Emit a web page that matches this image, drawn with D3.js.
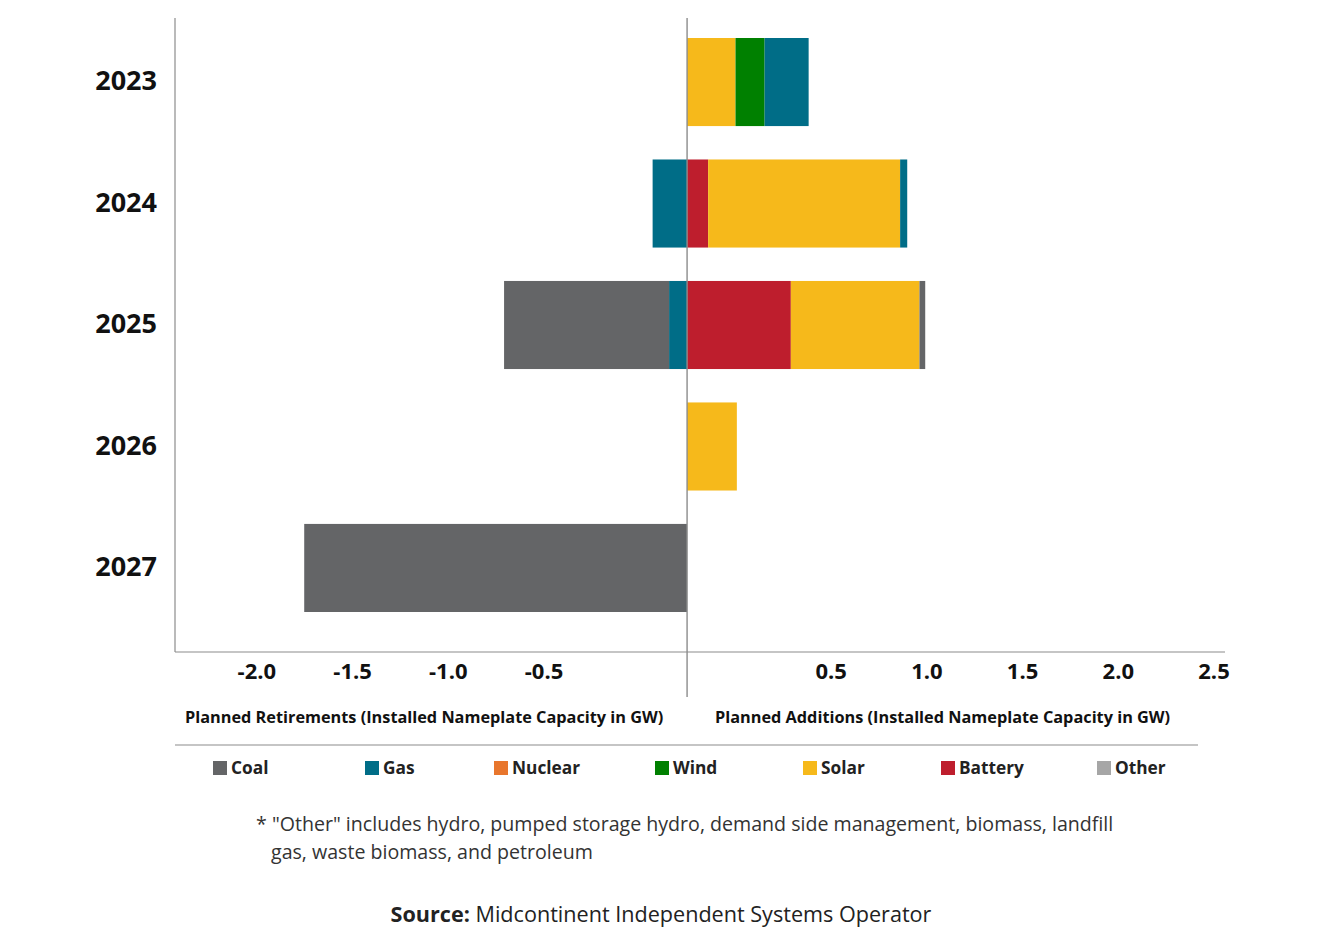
<!DOCTYPE html>
<html>
<head>
<meta charset="utf-8">
<script src="https://cdn.jsdelivr.net/npm/d3@7/dist/d3.min.js"></script>
<style>
  html, body { margin: 0; padding: 0; background: #fff; }
  svg { display: block; font-family: "Open Sans", "Noto Sans", sans-serif; }
</style>
</head>
<body>
<svg id="chart" width="1320" height="934"></svg>
<script>
// ---- Data (GW) ----
const years = ["2023", "2024", "2025", "2026", "2027"];

// Retirements (stacked leftwards from zero: gas first, then coal)
const retireGas  = [0, 0.18, 0.094, 0, 0];
const retireCoal = [0, 0, 0.862, 0, 2.0];

// Additions (stacked rightwards from zero)
const addBattery = [0, 0.11, 0.542, 0, 0];
const addSolar   = [0.253, 1.003, 0.672, 0.26, 0];
const addWind    = [0.152, 0, 0, 0, 0];
const addGas     = [0.23, 0.037, 0, 0, 0];
const addCoal    = [0, 0, 0.03, 0, 0];

const tickValues = [-2.0, -1.5, -1.0, -0.5, 0.5, 1.0, 1.5, 2.0, 2.5];

const legendNames  = ["Coal", "Gas", "Nuclear", "Wind", "Solar", "Battery", "Other"];
const legendColors = ["#646567", "#006d87", "#e8762d", "#008000", "#f6b91b", "#be1e2d", "#a6a6a6"];
const colorOf = Object.fromEntries(legendNames.map((n, i) => [n, legendColors[i]]));

// ---- Layout ----
const svg = d3.select("#chart");
const plotLeft = 175, plotRight = 1225, plotTop = 18, plotBottom = 652;

const x = d3.scaleLinear().domain([-2.675, 2.81]).range([plotLeft, plotRight]);
const y = d3.scaleBand().domain(years).range([38, 612]).paddingInner(0.275).paddingOuter(0);

// ---- Build segments ----
const segs = [];
function stack(seriesList, dir) {
  years.forEach((yr, i) => {
    let acc = 0;
    seriesList.forEach(([name, arr]) => {
      const v = arr[i];
      if (v > 0) {
        const a = acc, b = acc + v;
        segs.push({ yr, name, x0: dir * a, x1: dir * b });
        acc = b;
      }
    });
  });
}
stack([["Gas", retireGas], ["Coal", retireCoal]], -1);
stack([["Battery", addBattery], ["Solar", addSolar], ["Wind", addWind], ["Gas", addGas], ["Coal", addCoal]], 1);

svg.append("g").selectAll("rect").data(segs).join("rect")
  .attr("x", d => x(Math.min(d.x0, d.x1)))
  .attr("y", d => y(d.yr))
  .attr("width", d => Math.abs(x(d.x1) - x(d.x0)))
  .attr("height", y.bandwidth())
  .attr("fill", d => colorOf[d.name]);

// ---- Axes lines ----
const lineColor = "#8c8c8c";
svg.append("line").attr("x1", plotLeft).attr("x2", plotLeft).attr("y1", plotTop).attr("y2", plotBottom)
  .attr("stroke", lineColor).attr("stroke-width", 1.2);
svg.append("line").attr("x1", plotLeft).attr("x2", plotRight).attr("y1", plotBottom).attr("y2", plotBottom)
  .attr("stroke", lineColor).attr("stroke-width", 1.2);
svg.append("line").attr("x1", x(0)).attr("x2", x(0)).attr("y1", plotTop).attr("y2", 697)
  .attr("stroke", lineColor).attr("stroke-width", 1.4);

// ---- Y labels ----
const yAxis = d3.axisLeft(y).tickSize(0).tickPadding(0);
const gy = svg.append("g").attr("transform", "translate(157,-1)").call(yAxis);
gy.select(".domain").remove();
gy.selectAll("text")
  .attr("font-size", 27).attr("font-weight", 700).attr("fill", "#111")
  .attr("font-family", '"Open Sans", sans-serif')
  .attr("dy", "0.35em");

// ---- X tick labels (offset half a step outward, as in the reference) ----
const half = x(0.25) - x(0);
const xAxis = d3.axisBottom(x).tickValues(tickValues).tickSize(0).tickFormat(d3.format(".1f"));
const gx = svg.append("g").attr("transform", `translate(0,${plotBottom})`).call(xAxis);
gx.select(".domain").remove();
gx.selectAll(".tick text")
  .attr("font-size", 22).attr("font-weight", 700).attr("fill", "#111")
  .attr("font-family", '"Open Sans", sans-serif')
  .attr("y", 0).attr("dy", 27)
  .attr("dx", d => (d < 0 ? -half : half))
  .text(d => d3.format(".1f")(d).replace("−", "-"));

// ---- Axis titles ----
svg.append("text").attr("x", 185).attr("y", 723)
  .attr("font-size", 16.3).attr("font-weight", 700).attr("fill", "#111")
  .text("Planned Retirements (Installed Nameplate Capacity in GW)");
svg.append("text").attr("x", 715).attr("y", 723)
  .attr("font-size", 16.3).attr("font-weight", 700).attr("fill", "#111")
  .text("Planned Additions (Installed Nameplate Capacity in GW)");

// separator
svg.append("line").attr("x1", 175).attr("x2", 1198).attr("y1", 745).attr("y2", 745)
  .attr("stroke", lineColor).attr("stroke-width", 1.2);

// ---- Legend ----
const legendX = [213, 365, 494, 655, 803, 941, 1097];
const lg = svg.append("g").selectAll("g").data(legendNames).join("g")
  .attr("transform", (d, i) => `translate(${legendX[i]},761)`);
lg.append("rect").attr("width", 14).attr("height", 14).attr("fill", (d, i) => legendColors[i]);
lg.append("text").attr("x", 18).attr("y", 13)
  .attr("font-size", 17.3).attr("font-weight", 700).attr("fill", "#222")
  .text(d => d);

// ---- Footnote ----
svg.append("text").attr("x", 256).attr("y", 831)
  .attr("font-size", 19.6).attr("fill", "#333")
  .text('* "Other" includes hydro, pumped storage hydro, demand side management, biomass, landfill');
svg.append("text").attr("x", 271).attr("y", 859)
  .attr("font-size", 19.6).attr("fill", "#333")
  .text("gas, waste biomass, and petroleum");

// ---- Source ----
const src = svg.append("text").attr("x", 661).attr("y", 922).attr("text-anchor", "middle")
  .attr("font-size", 21.6).attr("fill", "#222");
src.append("tspan").attr("font-weight", 700).text("Source:");
src.append("tspan").text(" Midcontinent Independent Systems Operator");
</script>
</body>
</html>
